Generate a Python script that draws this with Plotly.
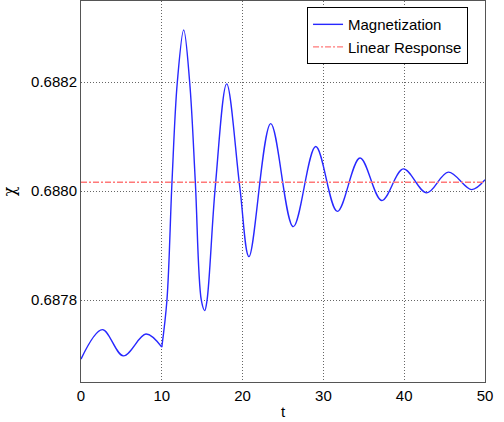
import plotly.graph_objects as go

# Magnetization (two pieces: before and after the kick at t=10)
t_before = [0.0, 2.64, 5.24, 8.04, 10.0]
m_before = [0.687692, 0.687746, 0.687698, 0.687738, 0.687714]

t_after = [10.0, 10.64, 11.26, 11.92, 12.71, 13.45, 14.15, 14.89, 15.31, 15.6,
           16.62, 18.03, 19.65, 20.79, 23.48, 26.27, 29.05,
           31.72, 34.53, 37.22, 39.89, 42.78,
           45.46, 48.35, 50.0]
m_after = [0.687714, 0.687801, 0.6880165, 0.6882, 0.688296, 0.6882, 0.6880165, 0.6878, 0.687781, 0.6878,
           0.688008, 0.688197, 0.688008, 0.687880, 0.688124, 0.687935, 0.688082,
           0.687963, 0.688061, 0.687983, 0.688041, 0.687997,
           0.688035, 0.688003, 0.688021]

t_linear = [0.0, 50.0]
linear_response = [0.6880165, 0.6880165]

x_ticks = [0, 10, 20, 30, 40, 50]
y_ticks = [0.6878, 0.6880, 0.6882]
y_tick_labels = ["0.6878", "0.6880", "0.6882"]

blue = "rgb(40,40,255)"
red = "rgb(255,120,120)"
FONT = "Liberation Sans, Arial, Helvetica, sans-serif"

fig = go.Figure()
fig.add_trace(go.Scatter(x=t_before, y=m_before, mode="lines", name="Magnetization",
                         line=dict(color=blue, width=1.4, shape="spline", smoothing=1.0),
                         legendgroup="m", showlegend=True))
fig.add_trace(go.Scatter(x=t_after, y=m_after, mode="lines", name="Magnetization",
                         line=dict(color=blue, width=1.4, shape="spline", smoothing=1.0),
                         legendgroup="m", showlegend=False))
fig.add_trace(go.Scatter(x=t_linear, y=linear_response, mode="lines", name="Linear Response",
                         line=dict(color=red, width=1.4, dash="6px,2px,2px,2px")))

axis_common = dict(showline=True, linecolor="#555", linewidth=1, mirror=True,
                   showgrid=True, gridcolor="#666", griddash="1px,2px", gridwidth=1,
                   zeroline=False, ticks="", tickfont=dict(size=15, color="black", family=FONT))

fig.update_xaxes(range=[0, 50], tickvals=x_ticks,
                 title=dict(text="t", font=dict(size=15, color="black", family=FONT), standoff=3),
                 **axis_common)
fig.update_yaxes(range=[0.68765, 0.688349], tickvals=y_ticks, ticktext=y_tick_labels,
                 title=dict(text="χ", font=dict(size=16, color="black", family="DejaVu Serif, serif"), standoff=12),
                 **axis_common)

fig.update_layout(
    width=504, height=422,
    margin=dict(l=81, r=19, t=1, b=40),
    paper_bgcolor="white", plot_bgcolor="white",
    font=dict(family=FONT, size=15, color="black"),
    showlegend=True,
    legend=dict(x=0.958, y=0.984, xanchor="right", yanchor="top",
                bgcolor="white", bordercolor="black", borderwidth=1,
                font=dict(size=15, family=FONT), itemwidth=30, tracegroupgap=0),
)

fig.write_html("out.html", config={"displayModeBar": False},
               post_script="document.body.style.margin='0';document.body.style.padding='0';")
